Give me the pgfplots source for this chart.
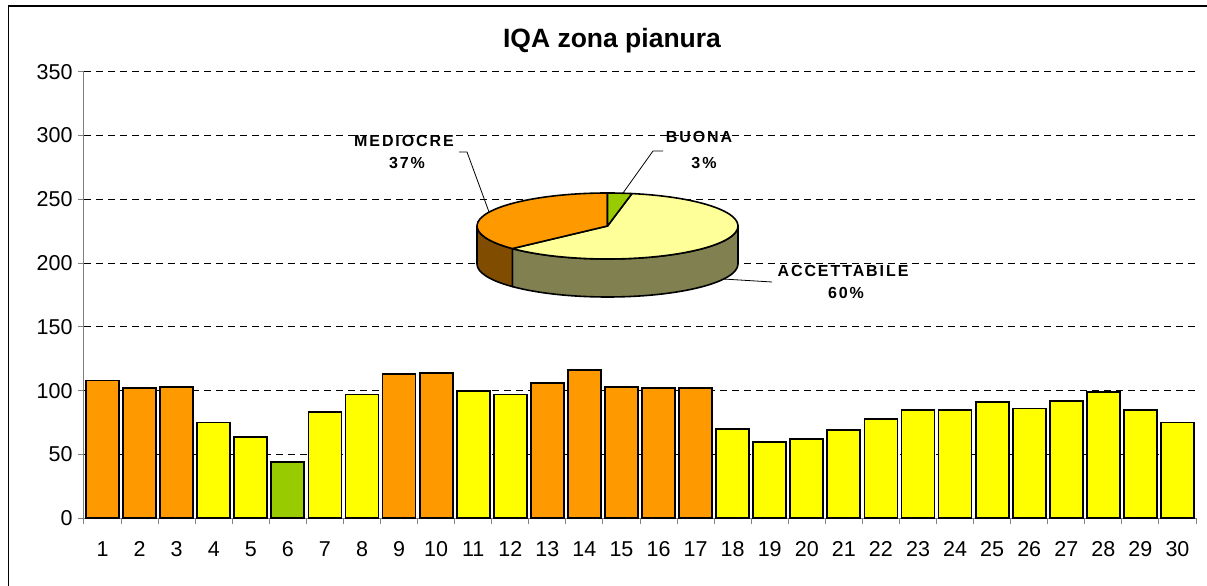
\documentclass[border=0pt]{standalone}
\usepackage{fontspec}
\setmainfont{Liberation Sans}
\usepackage{pgfplots}
\pgfplotsset{compat=1.18}
\usetikzlibrary{calc}
\definecolor{bOrange}{HTML}{FF9900}
\definecolor{bYellow}{HTML}{FFFF00}
\definecolor{bGreen}{HTML}{99CC00}
\definecolor{pYellow}{HTML}{FFFF99}
\definecolor{pOlive}{HTML}{808050}
\definecolor{pBrown}{HTML}{804C00}
\definecolor{axgray}{HTML}{808080}
\newcommand{\tickfont}{\fontsize{21.5}{24}\selectfont}
\newcommand{\piefont}{\fontsize{16}{18}\selectfont\bfseries\addfontfeatures{LetterSpace=12}}
\begin{document}
\begin{tikzpicture}[x=1pt,y=1pt]
\path[use as bounding box] (0,0) rectangle (1207,586);
\draw[line width=1.3pt] (8.3,0) -- (8.3,580) -- (1207,580);
\begin{axis}[
  at={(84pt,67.7pt)}, anchor=south west,
  width=1112pt, height=446.6pt, scale only axis,
  xmin=0.5, xmax=30.5, ymin=0, ymax=350,
  axis x line*=bottom, axis y line*=left,
  axis line style={draw=axgray, line width=1pt, -},
  ytick={50,100,...,350},
  extra y ticks={0}, extra y tick style={grid=none},
  ymajorgrids,
  grid style={black, line width=0.8pt, dash pattern=on 7pt off 5pt},
  xtick={1,...,30},
  minor xtick={0.5,1.5,...,30.5},
  major x tick style={draw=none},
  tick align=outside,
  major tick length=6pt, minor tick length=6pt,
  tick style={draw=axgray, line width=1pt},
  ticklabel style={font=\tickfont},
  /pgf/number format/assume math mode=true,
  xticklabel style={yshift=-14pt},
  yticklabel style={xshift=-2pt},
  ybar, bar width=33pt, bar shift=0pt,
  every axis plot/.append style={draw=black, line width=1.8pt},
]
\addplot[fill=bOrange] coordinates {(1,108) (2,102) (3,103) (9,113) (10,114) (13,106) (14,116) (15,103) (16,102) (17,102)};
\addplot[fill=bYellow] coordinates {(4,75) (5,64) (7,83) (8,97) (11,100) (12,97) (18,70) (19,60) (20,62) (21,69) (22,78) (23,85) (24,85) (25,91) (26,86) (27,92) (28,99) (29,85) (30,75)};
\addplot[fill=bGreen] coordinates {(6,44)};
\end{axis}
% title
\node[font=\fontsize{26.5}{30}\selectfont\bfseries] at (612,545) {IQA zona pianura};
% pie inset (percentages)
\def\pB{3}\def\pA{60}\def\pM{37}
\pgfmathsetmacro{\aone}{90-3.6*\pB}
\pgfmathsetmacro{\atwo}{\aone-3.6*\pA}
\pgfmathsetmacro{\athree}{\atwo-3.6*\pM}
\def\rx{130.5}\def\ry{33}\def\dep{38}
\coordinate (C) at (607.5,360);
\begin{scope}[line width=1.6pt, line join=round]
\filldraw[fill=pOlive] ($(C)+(0:\rx pt and \ry pt)$) arc[start angle=0,end angle=\atwo,x radius=\rx,y radius=\ry] -- ++(0,-\dep) arc[start angle=\atwo,end angle=0,x radius=\rx,y radius=\ry] -- cycle;
\filldraw[fill=pBrown] ($(C)+(\atwo:\rx pt and \ry pt)$) arc[start angle=\atwo,end angle=-180,x radius=\rx,y radius=\ry] -- ++(0,-\dep) arc[start angle=-180,end angle=\atwo,x radius=\rx,y radius=\ry] -- cycle;
\filldraw[fill=pYellow] (C) -- ($(C)+(\aone:\rx pt and \ry pt)$) arc[start angle=\aone,end angle=\atwo,x radius=\rx,y radius=\ry] -- cycle;
\filldraw[fill=bOrange] (C) -- ($(C)+(\atwo:\rx pt and \ry pt)$) arc[start angle=\atwo,end angle=\athree,x radius=\rx,y radius=\ry] -- cycle;
\filldraw[fill=bGreen] (C) -- ($(C)+(90:\rx pt and \ry pt)$) arc[start angle=90,end angle=\aone,x radius=\rx,y radius=\ry] -- cycle;
\end{scope}
\draw[line width=0.8pt] (459,434) -- (467,434) -- (489,374);
\draw[line width=0.8pt] (663,435) -- (653,435) -- (623,393);
\draw[line width=0.8pt] (772,304) -- (723,307);
\node[font=\piefont] at (404,445.3) {MEDIOCRE};
\node[font=\piefont] at (407,423.3) {37\%};
\node[font=\piefont] at (699,449) {BUONA};
\node[font=\piefont] at (704,423) {3\%};
\node[font=\piefont] at (843,315.3) {ACCETTABILE};
\node[font=\piefont] at (846,293.3) {60\%};
\end{tikzpicture}
\end{document}
